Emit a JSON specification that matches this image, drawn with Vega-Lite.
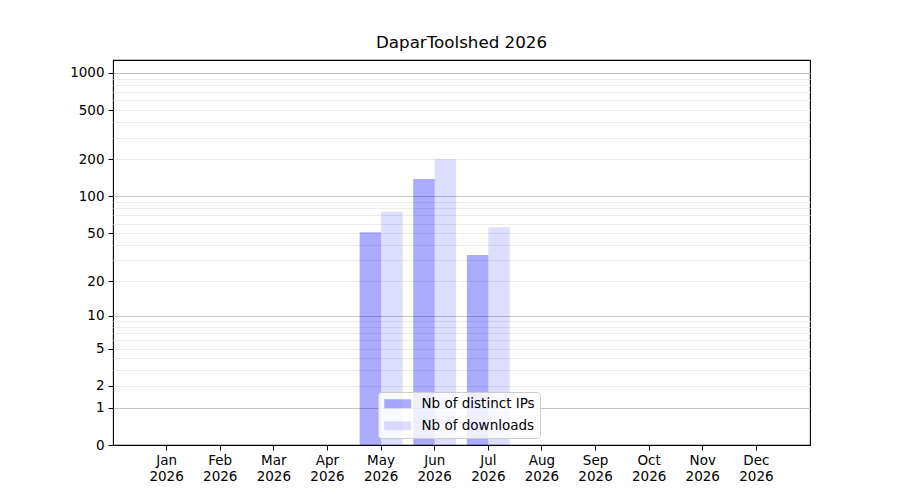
{
  "$schema": "https://vega.github.io/schema/vega-lite/v6.json",
  "width": 697,
  "height": 385,
  "autosize": "none",
  "padding": {"left": 113, "top": 60, "right": 90, "bottom": 55},
  "background": "white",
  "title": {
    "text": "DaparToolshed 2026",
    "font": "DejaVu Sans",
    "fontSize": 16.7,
    "fontWeight": "normal",
    "color": "black",
    "anchor": "middle",
    "offset": 8
  },
  "config": {
    "view": {"stroke": "black", "strokeWidth": 1.1},
    "axis": {
      "labelFont": "DejaVu Sans",
      "labelFontSize": 13.5,
      "labelColor": "black",
      "tickColor": "black",
      "tickSize": 5,
      "labelPadding": 4,
      "domain": false,
      "title": null
    },
    "legend": {"labelFont": "DejaVu Sans", "labelFontSize": 13.5, "labelColor": "black"}
  },
  "data": {
    "values": [
      {"month": "May", "series": "Nb of distinct IPs", "value": 51},
      {"month": "May", "series": "Nb of downloads", "value": 75},
      {"month": "Jun", "series": "Nb of distinct IPs", "value": 139},
      {"month": "Jun", "series": "Nb of downloads", "value": 201},
      {"month": "Jul", "series": "Nb of distinct IPs", "value": 33},
      {"month": "Jul", "series": "Nb of downloads", "value": 56}
    ]
  },
  "mark": {"type": "bar"},
  "encoding": {
    "x": {
      "field": "month",
      "type": "ordinal",
      "sort": null,
      "scale": {
        "domain": ["Jan", "Feb", "Mar", "Apr", "May", "Jun", "Jul", "Aug", "Sep", "Oct", "Nov", "Dec"],
        "paddingInner": 0.2,
        "paddingOuter": 0.6
      },
      "axis": {
        "labelAngle": 0,
        "grid": false,
        "labelExpr": "[datum.label, '2026']",
        "labelLineHeight": 16,
        "labelPadding": 3
      }
    },
    "xOffset": {
      "field": "series",
      "type": "nominal",
      "scale": {"domain": ["Nb of distinct IPs", "Nb of downloads"], "paddingInner": 0, "paddingOuter": 0}
    },
    "y": {
      "field": "value",
      "type": "quantitative",
      "scale": {"type": "symlog", "constant": 1, "domain": [0, 1273], "nice": false},
      "axis": {
        "values": [0, 1, 2, 3, 4, 5, 6, 7, 8, 9, 10, 20, 30, 40, 50, 60, 70, 80, 90, 100, 200, 300, 400, 500, 600, 700, 800, 900, 1000],
        "labelExpr": "indexof([0, 1, 2, 5, 10, 20, 50, 100, 200, 500, 1000], datum.value) >= 0 ? datum.label : ''",
        "format": "d",
        "grid": true,
        "gridWidth": 1,
        "gridColor": {
          "condition": {"test": "indexof([1, 10, 100, 1000], datum.value) >= 0", "value": "#c4c4c4"},
          "value": "#ebebeb"
        },
        "gridOpacity": {"condition": {"test": "datum.value == 0", "value": 0}, "value": 1},
        "tickOpacity": {
          "condition": {"test": "indexof([0, 1, 2, 5, 10, 20, 50, 100, 200, 500, 1000], datum.value) >= 0", "value": 1},
          "value": 0
        }
      }
    },
    "color": {
      "field": "series",
      "type": "nominal",
      "scale": {
        "domain": ["Nb of distinct IPs", "Nb of downloads"],
        "range": ["rgba(0,0,255,0.333)", "rgba(0,0,255,0.133)"]
      },
      "legend": {
        "title": null,
        "orient": "none",
        "legendX": 265,
        "legendY": 332,
        "symbolType": "M-3,-1H3V1H-3Z",
        "symbolSize": 81,
        "symbolOffset": 8,
        "symbolStrokeWidth": 0,
        "labelOffset": 17,
        "rowPadding": 7,
        "padding": 5,
        "fillColor": "rgba(255,255,255,0.8)",
        "strokeColor": "#cccccc",
        "cornerRadius": 3
      }
    }
  }
}
